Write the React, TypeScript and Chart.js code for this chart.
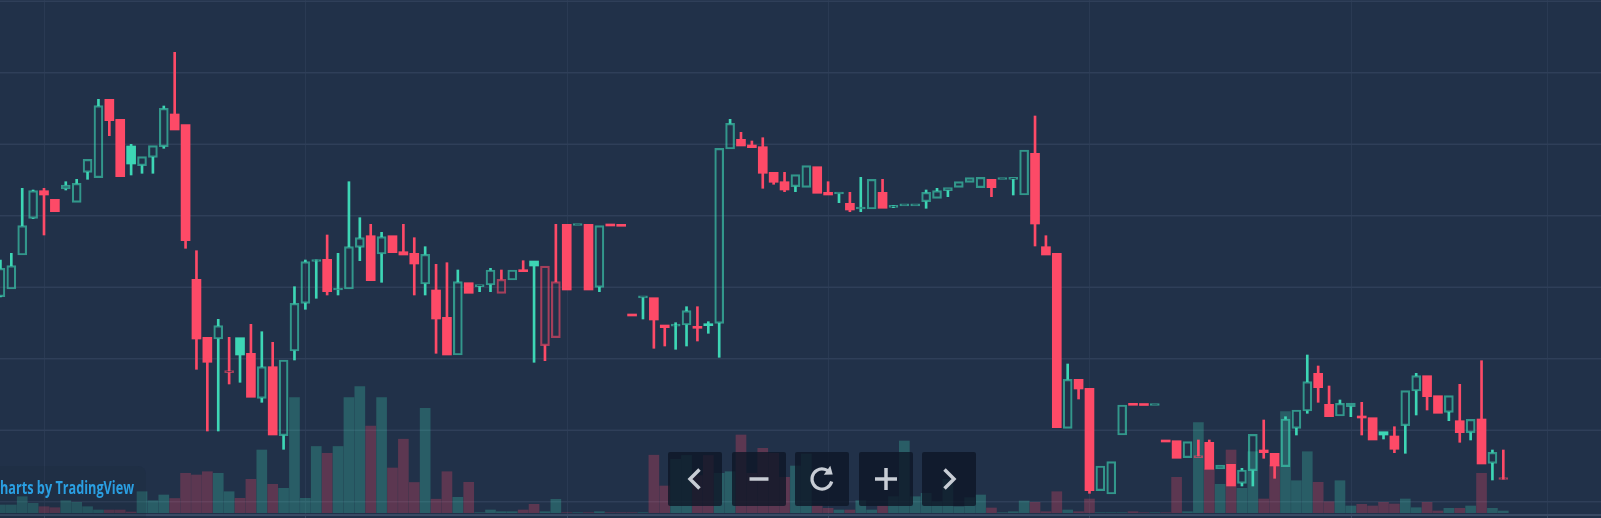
import React, { useEffect, useRef } from "react";
import { Chart, registerables } from "chart.js";

Chart.register(...registerables);

// ---------- data (price in chart units, volume in chart units) ----------
const opens = [
  233.3, 241, 275, 311.7, 339.3, 330.7, 341, 327.7, 357.7, 352.3,
  430.7, 410.7, 384, 364.3, 372.7, 383.3, 416, 405.3, 250.7, 192.7,
  191, 157.3, 192.3, 176.7, 131.7, 163.3, 94.3, 179, 226.7, 268.5,
  270.7, 240, 241, 282.7, 294.3, 276, 294.3, 278.3, 276.7, 246,
  240, 212.7, 175, 247.3, 243.3, 245, 236.7, 250, 260, 269,
  184.3, 192.3, 305.7, 304.5, 305.7, 242.7, 304.8, 304.2, 214.5, 232.2,
  232.3, 205, 203.8, 205, 203.3, 205.7, 206.7, 381, 390.7, 385,
  383.3, 357.7, 348.3, 343.3, 342.7, 363.3, 337.7, 336, 326.7, 321,
  321, 337.7, 322.7, 324.1, 324.2, 328.3, 331.7, 339.3, 342.7, 347.7,
  342.3, 350.7, 350.5, 350.6, 335, 376.7, 283.3, 276.7, 101.7, 150.7,
  141.7, 39.3, 36, 95, 125.2, 124.8, 124.5, 88.5, 89.3, 72.3,
  72.3, 87.7, 61, 65.7, 46.7, 59.3, 80, 76.7, 63.3, 101.7,
  119, 156.7, 125.7, 114, 123.3, 112.5, 112.3, 98.3, 94, 104.3,
  139, 154.3, 134.3, 117.7, 109.3, 97.3, 111, 66.7, 50.5,
];
const highs = [
  270, 276.7, 341.7, 340, 341.7, 330.7, 348.3, 350.7, 370.7, 430.7,
  430.7, 410.7, 385.7, 373.3, 384.3, 424, 477.7, 405.3, 279.3, 192.7,
  210.7, 192.7, 192.3, 205.7, 198.3, 187.7, 170, 243.3, 270, 270,
  295, 276.7, 348.3, 312.3, 305.7, 297.7, 294.3, 305.7, 292.3, 283.3,
  265.7, 267.3, 260, 247.3, 245, 261.7, 260, 260, 269.3, 269,
  263.8, 305.7, 305.7, 304.8, 305.7, 304.3, 304.8, 304.2, 214.5, 232.7,
  232.3, 205, 207.3, 223.3, 223.3, 208.3, 381.7, 410.7, 397.7, 389,
  392.3, 357.7, 357.7, 355.3, 364.3, 363.3, 348.3, 337.3, 337.7, 352.7,
  350.7, 350.7, 324.3, 324.4, 324.5, 340, 341.7, 342.3, 348.3, 352.3,
  352.7, 350.7, 350.8, 350.9, 380, 414, 294.3, 276.7, 166, 150.7,
  141.7, 64, 68.3, 125, 125.2, 124.8, 124.7, 88.5, 89.3, 88.3,
  90, 90, 65, 65.7, 61.7, 95.7, 110, 76.7, 113.3, 120,
  175, 164, 144, 130, 127, 127.7, 112.3, 98.3, 103.3, 139.3,
  156.7, 154.3, 134.3, 134.3, 145.7, 110.7, 169.3, 80, 80,
];
const lows = [
  233, 241, 275, 311.5, 295, 318.3, 340, 327.7, 350.7, 352.3,
  394.3, 353.3, 355, 356.7, 356.7, 381.7, 400, 281.7, 160.7, 99,
  99, 146, 147.7, 132.7, 127.7, 95, 80.7, 170, 220.7, 231.7,
  235, 235, 241, 269.3, 249.3, 247.7, 277.3, 275, 235, 235,
  176.7, 175, 175, 236.7, 238.3, 238.3, 236.7, 250, 258.3, 167.7,
  169.3, 192.3, 240, 304.5, 240, 238.3, 304, 303.7, 214, 211,
  181.7, 184, 180.7, 184, 189, 196.7, 172.7, 381, 384, 382.3,
  341.7, 345.7, 338.3, 338.3, 342.7, 336.7, 335, 327.3, 318.3, 318.3,
  321, 321.7, 322.3, 324.1, 324.2, 321.7, 331.7, 333.3, 342.7, 347.7,
  342.3, 333.3, 350.5, 335, 335, 284, 275, 102.3, 101.7, 131,
  36.7, 39.3, 36, 95, 124.7, 124.5, 124.5, 88, 71.7, 72.3,
  72.3, 60.7, 61, 44, 44, 44, 71.7, 51.7, 63.3, 95,
  116.7, 127.7, 113.3, 114, 113.3, 95, 90, 91, 77.3, 76.7,
  115, 120, 116.7, 109.3, 87.7, 90, 66, 50, 50.5,
];
const closes = [
  261.7, 264.3, 304.3, 339.3, 335, 318.3, 345, 346.7, 370.7, 424.3,
  409.3, 353.3, 366, 373.3, 384.3, 421.7, 400, 289.3, 191, 167.7,
  204.3, 159, 175, 132.7, 163.3, 95, 170, 226.7, 268.3, 269.7,
  238.3, 241.5, 283.3, 292.3, 249.3, 293.3, 277.3, 275, 266, 275.7,
  211, 175, 248.3, 236.7, 245, 260, 250.7, 260, 258.3, 264,
  263.8, 248.3, 240, 304.8, 240, 304.3, 304, 303.7, 214, 232.7,
  210, 202.3, 204.5, 219.3, 201.7, 204.3, 381.7, 406.7, 384, 382.3,
  356.7, 347.7, 340, 355.3, 364.3, 336.7, 335, 337.3, 320, 323,
  350.7, 321.7, 324, 324.4, 324.5, 337.7, 339.3, 342.3, 348.3, 352.3,
  352.7, 342.3, 350.8, 350.9, 380, 306, 275, 102.3, 150.7, 141,
  39.3, 64, 68.3, 125, 124.7, 124.5, 124.7, 88, 71.7, 88.3,
  74, 60.7, 65, 44, 60, 95.7, 77.3, 64, 111, 120,
  148.3, 142.3, 113.3, 126.7, 127, 112, 90, 95, 80.7, 139.3,
  154.3, 133.3, 116.7, 134.3, 97.3, 110.7, 66, 77.7, 50.8,
];
const volumes = [
  7.7, 7.7, 16, 9.4, 6, 5, 12, 10.4, 6, 2.7,
  2.7, 2.7, 0.7, 21, 12, 17.7, 14.2, 39.4, 37.7, 41,
  39.4, 21, 14.4, 33.4, 62.7, 28.4, 24.4, 115, 14.4, 66.2,
  59.4, 66.2, 115.2, 126, 86.7, 115.2, 44.7, 73.5, 30.2, 104.4,
  13.5, 41, 15.4, 30.4, 0, 2.7, 1, 1, 2.7, 8.4,
  1, 13.4, 0, 0, 0, 1, 0, 0, 0, 0,
  57.5, 26.7, 53.4, 57.2, 37, 57.2, 39.4, 41, 77.7, 39.4,
  64.4, 59.4, 35.4, 46.7, 58.7, 7, 4.4, 2.7, 2.7, 12,
  2.7, 6.7, 16, 71.7, 16, 19.4, 11, 33.4, 6, 15,
  17.7, 4.7, 0, 1, 11.7, 10.4, 1, 21, 2.7, 1,
  13.7, 0, 0, 0, 1, 0, 0, 0, 35.4, 1,
  90, 43.7, 28.4, 62.7, 24.4, 61, 13.7, 47.7, 101, 32,
  61, 30.4, 11, 32, 6.7, 8.4, 6.7, 10.4, 8.7, 13.7,
  5, 10.4, 1.7, 4.4, 4.4, 6.7, 39.4, 4.4, 1.7,
];

// vertical grid lines sit on these bar positions, horizontal ones on these prices
const gridBars = [4, 28, 52, 76, 100, 124, 142];
const gridPrices = [28.3, 99.8, 171.3, 242.8, 314.3, 385.8, 457.3, 528.8];

// ---------- style ----------
const BG = "#213149";
const GRID_H = "#2f3f59";
const GRID_V = "#2a3a53";
const UP = "#3dd6b5";
const DOWN = "#fd4a67";
const UP_HOLLOW = "rgba(61,214,181,0.62)";
const DOWN_HOLLOW = "rgba(253,74,103,0.6)";
const UP_VOL = "rgba(61,214,181,0.27)";
const DOWN_VOL = "rgba(253,74,103,0.27)";
const WATERMARK = "#2a9fe2";

const W = 1601;
const H = 518;

const chromePlugin = {
  id: "tvChrome",
  beforeDatasetsDraw(chart: any) {
    const { ctx, chartArea: a, scales } = chart;
    ctx.save();
    ctx.fillStyle = BG;
    ctx.fillRect(0, 0, chart.width, chart.height);
    ctx.lineWidth = 1;
    ctx.strokeStyle = GRID_V;
    for (const b of gridBars) {
      const x = Math.round(scales.x.getPixelForValue(b)) + 0.5;
      ctx.beginPath();
      ctx.moveTo(x, a.top);
      ctx.lineTo(x, a.bottom);
      ctx.stroke();
    }
    ctx.strokeStyle = GRID_H;
    ctx.lineWidth = 1.5;
    for (const p of gridPrices) {
      const y = scales.y.getPixelForValue(p);
      ctx.beginPath();
      ctx.moveTo(a.left, y);
      ctx.lineTo(a.right, y);
      ctx.stroke();
    }
    ctx.restore();
  },
  afterDatasetsDraw(chart: any) {
    const { ctx, chartArea: a, scales } = chart;
    ctx.save();
    // bottom time-axis border
    ctx.fillStyle = "#3a4a64";
    ctx.fillRect(0, a.bottom, chart.width, 2);
    ctx.fillStyle = BG;
    ctx.fillRect(0, a.bottom + 2, chart.width, chart.height - a.bottom - 2);
    ctx.fillStyle = "#3a4a64";
    for (const b of gridBars) {
      const x = Math.round(scales.x.getPixelForValue(b));
      ctx.fillRect(x, a.bottom + 2, 1, 3);
    }

    // watermark
    ctx.fillStyle = "rgba(22,32,52,0.14)";
    ctx.beginPath();
    (ctx as any).roundRect(-10, 466, 156, 60, 8);
    ctx.fill();
    ctx.font = 'bold 17px "Open Sans", "Liberation Sans", sans-serif';
    const cW = ctx.measureText("C").width;
    const restW = ctx.measureText("harts by TradingView").width;
    const sx = 134 / restW;
    ctx.translate(0, 494);
    ctx.scale(sx, 1);
    ctx.fillStyle = WATERMARK;
    ctx.textBaseline = "alphabetic";
    ctx.fillText("Charts by TradingView", -cW, 0);
    ctx.restore();

    // navigation buttons
    ctx.save();
    const lefts = [668, 732, 795, 859, 922];
    const by = 452;
    const bs = 54;
    lefts.forEach((l, k) => {
      ctx.fillStyle = "rgba(14,22,39,0.8)";
      ctx.beginPath();
      (ctx as any).roundRect(l, by, bs, bs, 2);
      ctx.fill();
      const cx = l + bs / 2;
      const cy = by + bs / 2;
      ctx.strokeStyle = "#c8cdd5";
      ctx.fillStyle = "#c8cdd5";
      ctx.lineWidth = 3.5;
      ctx.lineCap = "butt";
      ctx.lineJoin = "miter";
      ctx.beginPath();
      if (k === 0) {
        ctx.moveTo(cx + 4.5, cy - 9.5);
        ctx.lineTo(cx - 5, cy);
        ctx.lineTo(cx + 4.5, cy + 9.5);
        ctx.stroke();
      } else if (k === 1) {
        ctx.moveTo(cx - 9.5, cy);
        ctx.lineTo(cx + 9.5, cy);
        ctx.stroke();
      } else if (k === 2) {
        const r = 10;
        const a0 = 0.08 * Math.PI;
        const a1 = 1.7 * Math.PI;
        ctx.lineWidth = 3.2;
        ctx.arc(cx, cy, r, a0, a1, false);
        ctx.stroke();
        const ex = cx + r * Math.cos(a1);
        const ey = cy + r * Math.sin(a1);
        const tx = -Math.sin(a1);
        const ty = Math.cos(a1);
        const nx = Math.cos(a1);
        const ny = Math.sin(a1);
        ctx.beginPath();
        ctx.moveTo(ex + tx * 6, ey + ty * 6);
        ctx.lineTo(ex + nx * 5.5 - tx * 1, ey + ny * 5.5 - ty * 1);
        ctx.lineTo(ex - nx * 5.5 - tx * 1, ey - ny * 5.5 - ty * 1);
        ctx.closePath();
        ctx.fill();
      } else if (k === 3) {
        ctx.moveTo(cx - 11, cy);
        ctx.lineTo(cx + 11, cy);
        ctx.moveTo(cx, cy - 11);
        ctx.lineTo(cx, cy + 11);
        ctx.stroke();
      } else {
        ctx.moveTo(cx - 4.5, cy - 9.5);
        ctx.lineTo(cx + 5, cy);
        ctx.lineTo(cx - 4.5, cy + 9.5);
        ctx.stroke();
      }
    });
    ctx.restore();
  },
};

export default function App() {
  const canvasRef = useRef<HTMLCanvasElement | null>(null);

  useEffect(() => {
    const canvas = canvasRef.current;
    if (!canvas) return;

    const bodyData: any[] = [];
    const bodyFill: string[] = [];
    const bodyBorder: string[] = [];
    const bodyBorderW: number[] = [];
    const upperWick: any[] = [];
    const upperWickColor: string[] = [];
    const lowerWick: any[] = [];
    const lowerWickColor: string[] = [];
    const volData: any[] = [];
    const volColor: string[] = [];

    opens.forEach((o, i) => {
      const c = closes[i];
      const hi = highs[i];
      const lo = lows[i];
      const prev = i > 0 ? closes[i - 1] : o;
      const rising = i === 0 ? c >= o : c > prev;
      const color = rising ? UP : DOWN;
      const hollow = c > o;
      bodyData.push({ x: i, y: [o, c] });
      bodyFill.push(hollow ? "rgba(0,0,0,0)" : color);
      bodyBorder.push(hollow ? (rising ? UP_HOLLOW : DOWN_HOLLOW) : color);
      bodyBorderW.push(hollow ? 1.5 : 0);
      const top = Math.max(o, c);
      const bot = Math.min(o, c);
      if (hi > top + 0.05) {
        upperWick.push({ x: i, y: [top, hi] });
        upperWickColor.push(color);
      }
      if (lo < bot - 0.05) {
        lowerWick.push({ x: i, y: [lo, bot] });
        lowerWickColor.push(color);
      }
      volData.push({ x: i, y: volumes[i] });
      volColor.push(c >= o ? UP_VOL : DOWN_VOL);
    });

    const chart = new Chart(canvas, {
      type: "bar",
      data: {
        datasets: [
          {
            label: "body",
            data: bodyData,
            backgroundColor: bodyFill,
            borderColor: bodyBorder,
            borderWidth: bodyBorderW,
            borderSkipped: false,
            barThickness: 9,
            minBarLength: 2,
            grouped: false,
            order: 0,
            yAxisID: "y",
          } as any,
          {
            label: "upper wick",
            data: upperWick,
            backgroundColor: upperWickColor,
            barThickness: 2,
            grouped: false,
            order: 1,
            yAxisID: "y",
          } as any,
          {
            label: "lower wick",
            data: lowerWick,
            backgroundColor: lowerWickColor,
            barThickness: 2,
            grouped: false,
            order: 1,
            yAxisID: "y",
          } as any,
          {
            label: "volume",
            data: volData,
            backgroundColor: volColor,
            barThickness: 10,
            grouped: false,
            order: 2,
            yAxisID: "v",
          } as any,
        ],
      },
      options: {
        responsive: false,
        maintainAspectRatio: false,
        devicePixelRatio: 1,
        animation: false,
        layout: { padding: { left: 0, right: 0, top: 0, bottom: 4 } },
        plugins: { legend: { display: false }, tooltip: { enabled: false } },
        scales: {
          x: { type: "linear", display: false, min: -0.04, max: 146.97, offset: false },
          y: { type: "linear", display: false, min: 16, max: 530 },
          v: { type: "linear", display: false, min: -1.3, max: 512.7 },
        },
      } as any,
      plugins: [chromePlugin],
    });

    return () => chart.destroy();
  }, []);

  return (
    <div
      style={{
        position: "fixed",
        left: 0,
        top: 0,
        width: W,
        height: H,
        background: BG,
        overflow: "hidden",
      }}
    >
      <canvas ref={canvasRef} width={W} height={H} style={{ display: "block" }} />
    </div>
  );
}
